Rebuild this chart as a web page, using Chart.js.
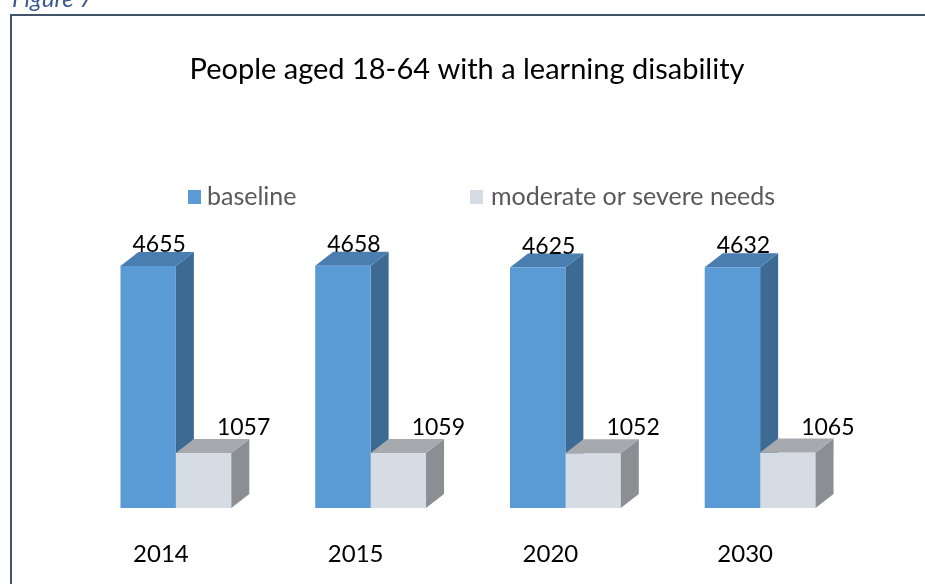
<!DOCTYPE html>
<html>
<head>
<meta charset="utf-8">
<script src="https://cdn.jsdelivr.net/npm/chart.js@4"></script>
<style>
  html, body { margin: 0; padding: 0; background: #ffffff; }
  #wrap { width: 925px; height: 584px; }
</style>
</head>
<body>
<div id="wrap"><canvas id="c" width="925" height="584"></canvas></div>
<script>
// ---- data ----
const years = ['2014', '2015', '2020', '2030'];
const baseline = [4655, 4658, 4625, 4632];
const moderateOrSevere = [1057, 1059, 1052, 1065];
const seriesNames = ['baseline', 'moderate or severe needs'];
const chartTitle = 'People aged 18-64 with a learning disability';
const figureLabel = 'Figure 7';

// ---- styling ----
const FONT = 'Lato, "Open Sans", sans-serif';
const DEPTH_X = 18, DEPTH_Y = 14;           // extrusion of the 3D boxes
const faces = [
  { front: '#5b9bd5', side: '#3d6a92', top: '#4a7db0', labelDx: 11, labelDy: 14 },
  { front: '#d6dce4', side: '#8b8e93', top: '#a6a9ae', labelDx: 40, labelDy: 18 }
];

function barBox(el) {
  const p = el.getProps(['x', 'y', 'base', 'width'], true);
  return { left: p.x - p.width / 2, right: p.x + p.width / 2, top: p.y, bottom: p.base, x: p.x };
}

function drawDepth(ctx, el, style) {
  const b = barBox(el);
  // right-hand side face
  ctx.fillStyle = style.side;
  ctx.beginPath();
  ctx.moveTo(b.right, b.top);
  ctx.lineTo(b.right + DEPTH_X, b.top - DEPTH_Y);
  ctx.lineTo(b.right + DEPTH_X, b.bottom - DEPTH_Y);
  ctx.lineTo(b.right, b.bottom);
  ctx.closePath();
  ctx.fill();
  // top face
  ctx.fillStyle = style.top;
  ctx.beginPath();
  ctx.moveTo(b.left, b.top);
  ctx.lineTo(b.left + DEPTH_X, b.top - DEPTH_Y);
  ctx.lineTo(b.right + DEPTH_X, b.top - DEPTH_Y);
  ctx.lineTo(b.right, b.top);
  ctx.closePath();
  ctx.fill();
}

const decorations = {
  id: 'decorations',
  beforeDraw(chart) {
    const ctx = chart.ctx;
    ctx.save();
    ctx.fillStyle = '#ffffff';
    ctx.fillRect(0, 0, chart.width, chart.height);

    // frame (left and top edges)
    ctx.strokeStyle = '#44546a';
    ctx.lineWidth = 2;
    ctx.beginPath();
    ctx.moveTo(11, chart.height + 2);
    ctx.lineTo(11, 15);
    ctx.lineTo(chart.width + 2, 15);
    ctx.stroke();

    // caption above the frame
    ctx.fillStyle = '#3b5a8c';
    ctx.font = 'italic 24px ' + FONT;
    ctx.textAlign = 'left';
    ctx.textBaseline = 'alphabetic';
    ctx.fillText(figureLabel, 12, 7);

    // title
    ctx.fillStyle = '#000000';
    ctx.font = '29px ' + FONT;
    ctx.textAlign = 'center';
    ctx.textBaseline = 'middle';
    ctx.fillText(chartTitle, 467, 70);

    // legend
    const legendItems = [{ box: 188, text: 207 }, { box: 470, text: 491 }];
    ctx.font = '25px ' + FONT;
    ctx.textAlign = 'left';
    ctx.textBaseline = 'middle';
    legendItems.forEach((item, i) => {
      ctx.fillStyle = faces[i].front;
      ctx.fillRect(item.box, 190, 13, 14);
      ctx.fillStyle = '#595959';
      ctx.fillText(seriesNames[i], item.text, 197);
    });
    ctx.restore();
  },
  beforeDatasetsDraw(chart) {
    // the baseline boxes sit behind the grey ones, so their depth goes first
    const ctx = chart.ctx;
    ctx.save();
    chart.getDatasetMeta(0).data.forEach(el => drawDepth(ctx, el, faces[0]));
    ctx.restore();
  },
  afterDatasetsDraw(chart) {
    const ctx = chart.ctx;
    ctx.save();
    chart.getDatasetMeta(1).data.forEach(el => drawDepth(ctx, el, faces[1]));

    // value labels
    ctx.fillStyle = '#000000';
    ctx.font = '23px ' + FONT;
    ctx.textAlign = 'center';
    ctx.textBaseline = 'alphabetic';
    chart.data.datasets.forEach((ds, di) => {
      chart.getDatasetMeta(di).data.forEach((el, i) => {
        const b = barBox(el);
        ctx.fillText(String(ds.data[i]), b.x + faces[di].labelDx, b.top - faces[di].labelDy);
      });
    });

    // category labels
    const xs = chart.scales.x;
    ctx.font = '24px ' + FONT;
    ctx.textBaseline = 'middle';
    years.forEach((y, i) => {
      ctx.fillText(y, xs.getPixelForValue(i) - 15, 554);
    });
    ctx.restore();
  }
};

new Chart(document.getElementById('c'), {
  type: 'bar',
  data: {
    labels: years,
    datasets: [
      { label: seriesNames[0], data: baseline, backgroundColor: faces[0].front },
      { label: seriesNames[1], data: moderateOrSevere, backgroundColor: faces[1].front }
    ]
  },
  options: {
    responsive: false,
    devicePixelRatio: 1,
    animation: false,
    categoryPercentage: 0.569,
    barPercentage: 1.0,
    layout: { padding: { left: 78.5, right: 67.5, top: 248, bottom: 76 } },
    scales: {
      x: { display: false },
      y: { display: false, min: 0, max: 5000 }
    },
    plugins: {
      legend: { display: false },
      title: { display: false },
      tooltip: { enabled: false }
    }
  },
  plugins: [decorations]
});
</script>
</body>
</html>
